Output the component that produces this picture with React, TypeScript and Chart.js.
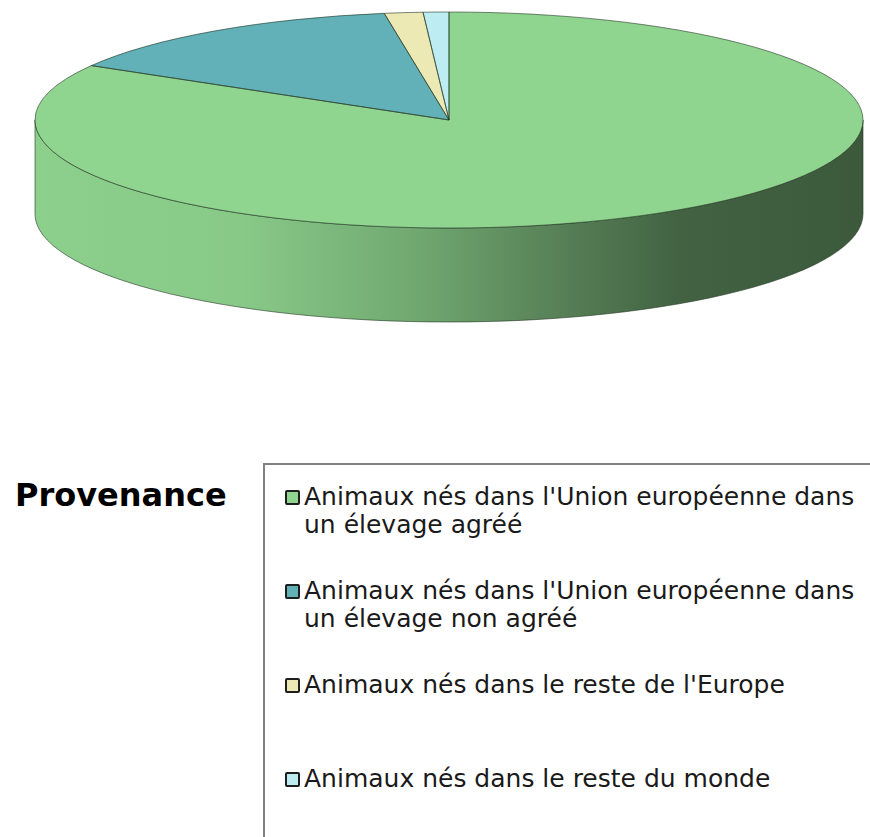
import React, { useEffect, useRef } from "react";
import { Chart, registerables } from "chart.js";

Chart.register(...registerables);

const LEGEND_TITLE = "Provenance";
const LABELS = [
  "Animaux nés dans l'Union européenne dans un élevage agréé",
  "Animaux nés dans l'Union européenne dans un élevage non agréé",
  "Animaux nés dans le reste de l'Europe",
  "Animaux nés dans le reste du monde",
];
const VALUES = [83.4, 14.1, 1.5, 1.0];
const COLORS = ["#8FD48F", "#62B1B8", "#EDE9B5", "#BDEDF2"];

const TILT = 108 / 414;
const DEPTH = 94;
const SIDE_SHADES: [number, number][] = [
  [0, 0.98],
  [0.25, 0.95],
  [0.45, 0.8],
  [0.62, 0.62],
  [0.78, 0.46],
  [1, 0.42],
];
const OUTLINE = "rgba(35,55,35,0.6)";

function hexToRgb(hex: string) {
  const h = hex.replace("#", "");
  return [0, 2, 4].map((i) => parseInt(h.slice(i, i + 2), 16));
}
function shade(hex: string, f: number) {
  const [r, g, b] = hexToRgb(hex);
  return `rgb(${Math.round(r * f)},${Math.round(g * f)},${Math.round(b * f)})`;
}

const pie3d = {
  id: "pie3d",
  beforeDatasetsDraw(chart: any) {
    const ctx = chart.ctx as CanvasRenderingContext2D;
    const meta = chart.getDatasetMeta(0);
    meta.data.forEach((arc: any, i: number) => {
      const { x, y, startAngle, endAngle, outerRadius } = arc.getProps(
        ["x", "y", "startAngle", "endAngle", "outerRadius"],
        true
      );
      const ry = outerRadius * TILT;
      for (const base of [-2 * Math.PI, 0, 2 * Math.PI]) {
        const a0 = Math.max(startAngle, base);
        const a1 = Math.min(endAngle, base + Math.PI);
        if (a1 <= a0) continue;
        const grad = ctx.createLinearGradient(x - outerRadius, 0, x + outerRadius, 0);
        SIDE_SHADES.forEach(([p, f]) => grad.addColorStop(p, shade(COLORS[i], f)));
        ctx.beginPath();
        ctx.ellipse(x, y, outerRadius, ry, 0, a0, a1, false);
        ctx.lineTo(x + outerRadius * Math.cos(a1), y + ry * Math.sin(a1) + DEPTH);
        ctx.ellipse(x, y + DEPTH, outerRadius, ry, 0, a1, a0, true);
        ctx.closePath();
        ctx.fillStyle = grad;
        ctx.fill();
        ctx.strokeStyle = OUTLINE;
        ctx.lineWidth = 1;
        ctx.stroke();
      }
    });
    const c = meta.data[0];
    ctx.save();
    ctx.translate(c.x, c.y);
    ctx.scale(1, TILT);
    ctx.translate(-c.x, -c.y);
  },
  afterDatasetsDraw(chart: any) {
    const ctx = chart.ctx as CanvasRenderingContext2D;
    ctx.restore();
    const meta = chart.getDatasetMeta(0);
    meta.data.forEach((arc: any) => {
      const { x, y, startAngle, endAngle, outerRadius } = arc.getProps(
        ["x", "y", "startAngle", "endAngle", "outerRadius"],
        true
      );
      const ry = outerRadius * TILT;
      ctx.beginPath();
      ctx.moveTo(x, y);
      ctx.lineTo(x + outerRadius * Math.cos(startAngle), y + ry * Math.sin(startAngle));
      ctx.ellipse(x, y, outerRadius, ry, 0, startAngle, endAngle, false);
      ctx.closePath();
      ctx.strokeStyle = OUTLINE;
      ctx.lineWidth = 1;
      ctx.stroke();
    });
  },
};

function PieCanvas() {
  const ref = useRef<HTMLCanvasElement>(null);
  useEffect(() => {
    if (!ref.current) return;
    const chart = new Chart(ref.current, {
      type: "pie",
      data: {
        labels: LABELS,
        datasets: [
          {
            data: VALUES,
            backgroundColor: COLORS,
            borderWidth: 0,
            radius: 414,
            clip: false,
          } as any,
        ],
      },
      options: {
        animation: false,
        responsive: true,
        maintainAspectRatio: false,
        events: [],
        layout: { padding: { left: 28, right: 0, top: 0, bottom: 100 } },
        plugins: { legend: { display: false }, tooltip: { enabled: false } },
      },
      plugins: [pie3d],
    });
    return () => chart.destroy();
  }, []);
  return (
    <div style={{ position: "absolute", left: 0, top: 0, width: 870, height: 340 }}>
      <canvas ref={ref} />
    </div>
  );
}

export default function App() {
  const entryTop = [483, 577, 671, 765];
  return (
    <div
      style={{
        position: "absolute",
        left: 0,
        top: 0,
        width: 870,
        height: 837,
        overflow: "hidden",
        background: "#fff",
      }}
    >
      <PieCanvas />
      <div
        style={{
          position: "absolute",
          left: 15,
          top: 479,
          font: "bold 32px 'DejaVu Sans'",
          lineHeight: "32px",
          color: "#000",
          whiteSpace: "nowrap",
        }}
      >
        {LEGEND_TITLE}
      </div>
      <div
        style={{
          position: "absolute",
          left: 263,
          top: 463,
          width: 620,
          height: 400,
          borderTop: "2px solid #808080",
          borderLeft: "2px solid #808080",
        }}
      />
      {LABELS.map((label, i) => (
        <div key={i}>
          <div
            style={{
              position: "absolute",
              left: 285,
              top: entryTop[i] + 7,
              width: 11,
              height: 11,
              background: COLORS[i],
              border: "2px solid #1e1e1e",
              borderRadius: 2,
            }}
          />
          <div
            style={{
              position: "absolute",
              left: 304,
              top: entryTop[i],
              width: 585,
              font: "25px 'DejaVu Sans'",
              lineHeight: "28px",
              color: "#1a1a1a",
            }}
          >
            {label}
          </div>
        </div>
      ))}
    </div>
  );
}
